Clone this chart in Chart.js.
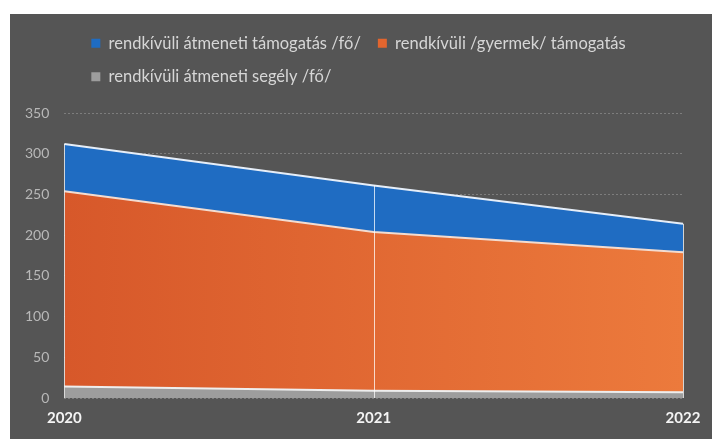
<!DOCTYPE html>
<html>
<head>
<meta charset="utf-8">
<script src="https://cdn.jsdelivr.net/npm/chart.js@4"></script>
<style>
  html, body { margin: 0; padding: 0; background: #fff; }
  #wrap { position: absolute; left: 10px; top: 14px; width: 702px; height: 425px; background: #555555; }
</style>
</head>
<body>
<div id="wrap"><canvas id="myChart"></canvas></div>
<script>
const years = ['2020', '2021', '2022'];
const segely = [14, 9, 7];
const gyermek = [240, 195, 172];
const tamogatas = [58, 57, 35];
const yTicks = [0, 50, 100, 150, 200, 250, 300, 350];

// vertical white edges of the stacked area, like Excel draws them
const dropLines = {
  id: 'dropLines',
  afterDatasetsDraw(chart) {
    const ctx = chart.ctx;
    const x = chart.scales.x, y = chart.scales.y;
    ctx.save();
    ctx.strokeStyle = 'rgba(255,255,255,0.75)';
    ctx.lineWidth = 1;
    years.forEach((yr, i) => {
      const top = segely[i] + gyermek[i] + tamogatas[i];
      const px = Math.round(x.getPixelForValue(i)) + 0.5;
      ctx.beginPath();
      ctx.moveTo(px, y.getPixelForValue(top));
      ctx.lineTo(px, y.getPixelForValue(0));
      ctx.stroke();
    });
    ctx.restore();
  }
};

// legend: more room under it, rows start at the same x, nudged right
const legendTweak = {
  id: 'legendTweak',
  beforeLayout(chart) {
    const lg = chart.legend;
    if (lg && !lg._tweaked) {
      const fit = lg.fit.bind(lg);
      lg.fit = function () {
        fit();
        this.height += 18;
        if (this.lineWidths && this.lineWidths.length) {
          const w = this.lineWidths[0] - 24;
          this.lineWidths = this.lineWidths.map(() => w);
        }
      };
      lg._tweaked = true;
    }
  }
};

let myChart = new Chart(
  document.getElementById('myChart'),
  {
    type: 'line',
    data: {
      labels: years,
      datasets: [
        {
          label: 'rendkívüli átmeneti segély /fő/',
          data: segely,
          backgroundColor: '#9d9d9d',
          borderColor: '#eeeeee',
          fill: 'origin'
        },
        {
          label: 'rendkívüli /gyermek/ támogatás',
          data: gyermek,
          backgroundColor: function(c) {
            const a = c.chart.chartArea;
            if (!a) return '#e2652e';
            const g = c.chart.ctx.createLinearGradient(a.left, 0, a.right, 0);
            g.addColorStop(0, '#d7582a');
            g.addColorStop(1, '#ec7a3c');
            return g;
          },
          borderColor: '#f3dcd0',
          fill: '-1'
        },
        {
          label: 'rendkívüli átmeneti támogatás /fő/',
          data: tamogatas,
          backgroundColor: '#1f6cc2',
          borderColor: '#e6eef8',
          fill: '-1'
        }
      ]
    },
    options: {
      responsive: true,
      maintainAspectRatio: false,
      animation: false,
      elements: {
        line: { borderWidth: 2, tension: 0 },
        point: { radius: 0, hoverRadius: 0 }
      },
      layout: { padding: { left: 0, right: 29, top: 4, bottom: 9 } },
      plugins: {
        tooltip: { enabled: false },
        legend: {
          position: 'top',
          reverse: true,
          labels: {
            color: '#d6d6d6',
            font: { family: 'Lato', size: 16.5 },
            boxWidth: 9,
            boxHeight: 9,
            padding: 17,
            generateLabels(chart) {
              const items = Chart.defaults.plugins.legend.labels.generateLabels(chart);
              const fills = ['#9d9d9d', '#e2652e', '#1f6cc2'];
              items.forEach(it => { it.lineWidth = 0; it.fillStyle = fills[it.datasetIndex]; });
              return items;
            }
          }
        }
      },
      scales: {
        x: {
          grid: { display: false },
          border: { display: false },
          ticks: { color: '#f4f4f4', font: { family: 'Lato', size: 15, weight: 'bold' }, padding: 3, maxRotation: 0 }
        },
        y: {
          stacked: true,
          min: 0,
          max: 350,
          afterBuildTicks(axis) { axis.ticks = yTicks.map(v => ({ value: v })); },
          grid: { color: 'rgba(200,200,200,0.35)', drawTicks: false },
          border: { display: false, dash: [2, 2] },
          ticks: { color: '#b8b8b8', font: { family: 'Lato', size: 14 }, padding: 15 }
        }
      }
    },
    plugins: [dropLines, legendTweak]
  }
);
</script>
</body>
</html>
